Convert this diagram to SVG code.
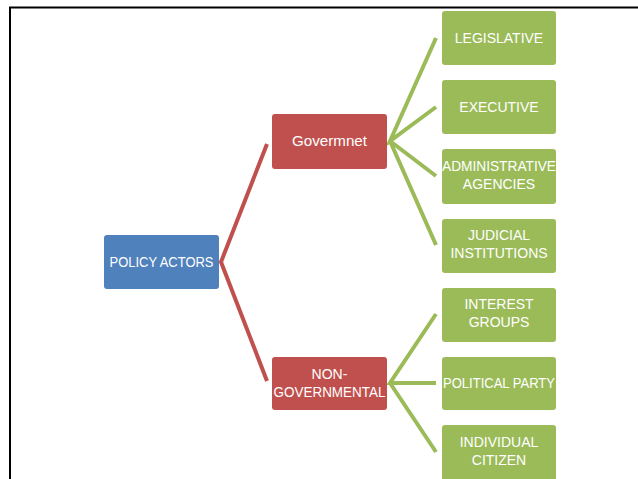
<svg xmlns="http://www.w3.org/2000/svg" width="638" height="479" viewBox="0 0 638 479">
<style>
.blue{fill:#4F81BD}
.red{fill:#C0504D}
.green{fill:#9BBB59}
text{font-family:"Liberation Sans",Arial,sans-serif;font-size:14px;fill:#ffffff;text-anchor:middle}
.cr{stroke:#C0504D;stroke-width:4;fill:none}
.cg{stroke:#9BBB59;stroke-width:4;fill:none}
</style>
<rect x="0" y="0" width="638" height="479" fill="#ffffff"/>
<path d="M10 479 V7.5 H638" fill="none" stroke="#000" stroke-width="2"/>
<g id="connectors">
<path class="cr" d="M267 144 L221 262 L267 381"/>
<path class="cg" d="M436 38 L390 141 L436 107 M390 141 L436 176 M390 141 L436 245"/>
<path class="cg" d="M436 314 L390 383 L436 383 M390 383 L436 452"/>
</g>
<g id="policy-actors"><rect class="blue" x="104" y="235" width="115" height="54" rx="3"/><text x="161.5" y="267" textLength="104" lengthAdjust="spacingAndGlyphs">POLICY ACTORS</text></g>
<g id="government"><rect class="red" x="272" y="114" width="115" height="55" rx="3"/><text x="329.5" y="146" textLength="75" lengthAdjust="spacingAndGlyphs">Govermnet</text></g>
<g id="non-governmental"><rect class="red" x="272" y="357" width="115" height="53" rx="3"/><text x="329.5" y="379">NON-</text><text x="329.5" y="397" textLength="112" lengthAdjust="spacingAndGlyphs">GOVERNMENTAL</text></g>
<g id="legislative"><rect class="green" x="442" y="11" width="114" height="54" rx="3"/><text x="499" y="43">LEGISLATIVE</text></g>
<g id="executive"><rect class="green" x="442" y="80" width="114" height="54" rx="3"/><text x="499" y="112">EXECUTIVE</text></g>
<g id="administrative"><rect class="green" x="442" y="149" width="114" height="55" rx="3"/><text x="499" y="171" textLength="114" lengthAdjust="spacingAndGlyphs">ADMINISTRATIVE</text><text x="499" y="189">AGENCIES</text></g>
<g id="judicial"><rect class="green" x="442" y="219" width="114" height="54" rx="3"/><text x="499" y="240">JUDICIAL</text><text x="499" y="258">INSTITUTIONS</text></g>
<g id="interest"><rect class="green" x="442" y="288" width="114" height="54" rx="3"/><text x="499" y="309">INTEREST</text><text x="499" y="327">GROUPS</text></g>
<g id="political"><rect class="green" x="442" y="357" width="114" height="53" rx="3"/><text x="499" y="388" textLength="112" lengthAdjust="spacingAndGlyphs">POLITICAL PARTY</text></g>
<g id="individual"><rect class="green" x="442" y="425" width="114" height="56" rx="3"/><text x="499" y="447">INDIVIDUAL</text><text x="499" y="465">CITIZEN</text></g>
</svg>
